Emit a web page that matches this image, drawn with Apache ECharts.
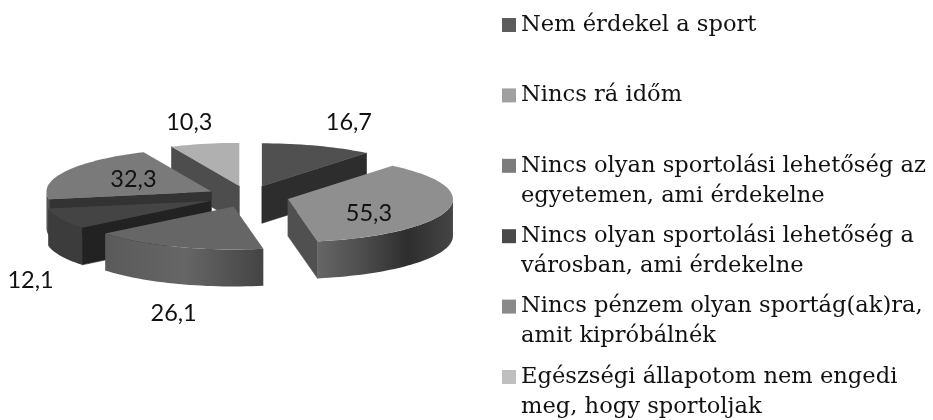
<!DOCTYPE html>
<html>
<head>
<meta charset="utf-8">
<style>
  html, body { margin: 0; padding: 0; background: #fff; }
  #chart { width: 933px; height: 420px; }
</style>
<script src="https://cdn.jsdelivr.net/npm/echarts@6/dist/echarts.min.js"></script>
</head>
<body>
<div id="chart"></div>
<script>
const categories = [
  "Nem érdekel a sport",
  "Nincs rá időm",
  "Nincs olyan sportolási lehetőség az\negyetemen, ami érdekelne",
  "Nincs olyan sportolási lehetőség a\nvárosban, ami érdekelne",
  "Nincs pénzem olyan sportág(ak)ra,\namit kipróbálnék",
  "Egészségi állapotom nem engedi\nmeg, hogy sportoljak",
];
const values = [16.7, 55.3, 26.1, 12.1, 32.3, 10.3];

const legendColors = ["#5c5c5c", "#a0a0a0", "#7c7c7c", "#4a4a4a", "#8a8a8a", "#bfbfbf"];
const topColors = ["#505050", "#8f8f8f", "#666666", "#444444", "#7a7a7a", "#b0b0b0"];
const cutColors = ["#2d2d2d", "#505050", "#333333", "#222222", "#333333", "#4d4d4d"];
// outer wall shading, left to right
const wallStops = [
  ["#444444", "#444444"],
  ["#666666", "#4d4d4d", "#2e2e2e", "#454545"],
  ["#5a5a5a", "#666666", "#444444"],
  ["#3c3c3c", "#3c3c3c"],
  ["#555555", "#555555"],
  ["#444444", "#444444"],
];
// back slices first
const drawOrder = [5, 0, 4, 3, 1, 2];
// label offset from the slice's tip, in px
const labelOffsets = [[87, -64], [81, 14], [-60, 107], [-180, 80], [-78, -12], [-50, -63]];

const cx = 248, cy = 196.4, rx = 165, ry = 43, depth = 37, explode = 0.25;
const total = values.reduce((a, b) => a + b, 0);

function sliceAngles(i) {
  const before = values.slice(0, i).reduce((a, b) => a + b, 0);
  return [before / total * 360, (before + values[i]) / total * 360];
}

function arcPoints(tip, from, to, dy) {
  const pts = [];
  const n = Math.max(1, Math.ceil((to - from) / 2));
  for (let k = 0; k <= n; k++) {
    const a = (from + (to - from) * k / n) * Math.PI / 180;
    pts.push([tip[0] + rx * Math.sin(a), tip[1] - ry * Math.cos(a) + dy]);
  }
  return pts;
}

function renderSlice(i) {
  const [start, end] = sliceAngles(i);
  const mid = (start + end) / 2 * Math.PI / 180;
  const tip = [cx + explode * rx * Math.sin(mid), cy - explode * ry * Math.cos(mid)];
  const children = [];

  const cutFace = (angle) => {
    const edge = arcPoints(tip, angle, angle, 0)[0];
    children.push({
      type: "polygon",
      shape: { points: [tip, edge, [edge[0], edge[1] + depth], [tip[0], tip[1] + depth]] },
      style: { fill: cutColors[i], stroke: cutColors[i], lineWidth: 0.6 },
    });
  };
  if (start > 180) cutFace(start);
  if (end < 180) cutFace(end);

  // front part of the rim
  const from = Math.max(start, 90), to = Math.min(end, 270);
  if (to > from) {
    const stops = wallStops[i];
    children.push({
      type: "polygon",
      shape: { points: arcPoints(tip, from, to, 0).concat(arcPoints(tip, from, to, depth).reverse()) },
      style: {
        fill: new echarts.graphic.LinearGradient(0, 0, 1, 0,
          stops.map((color, k) => ({ offset: k / (stops.length - 1), color }))),
      },
    });
  }

  children.push({
    type: "polygon",
    shape: { points: [tip].concat(arcPoints(tip, start, end, 0)) },
    style: { fill: topColors[i] },
  });
  children.push({
    type: "text",
    z2: 50,
    style: {
      x: tip[0] + labelOffsets[i][0],
      y: tip[1] + labelOffsets[i][1],
      text: String(values[i]).replace(".", ","),
      fill: "#111",
      font: '23.5px Lato, "Open Sans", sans-serif',
      align: "center",
      verticalAlign: "middle",
    },
  });
  return { type: "group", children };
}

const chart = echarts.init(document.getElementById("chart"), null, { renderer: "canvas" });

const option = {
  backgroundColor: "#fff",
  animation: false,
  legend: {
    orient: "vertical",
    left: 502,
    top: -20,
    height: 1000,
    padding: 0,
    itemWidth: 14,
    itemHeight: 14,
    itemGap: -19.6,
    icon: "rect",
    selectedMode: false,
    data: categories,
    // three line box, so the swatch sits on the first real text line
    formatter: (name) => {
      const parts = name.split("\n");
      return "\n" + parts[0] + "\n" + (parts[1] || " ");
    },
    textStyle: {
      fontFamily: '"DejaVu Serif", serif',
      fontSize: 22.6,
      lineHeight: 30,
      color: "#111",
    },
  },
  series: drawOrder.map((i, order) => ({
    type: "custom",
    name: categories[i],
    coordinateSystem: "none",
    z: 2 + order,
    silent: true,
    itemStyle: { color: legendColors[i] },
    data: [values[i]],
    renderItem: () => renderSlice(i),
  })),
};

chart.setOption(option);
</script>
</body>
</html>
